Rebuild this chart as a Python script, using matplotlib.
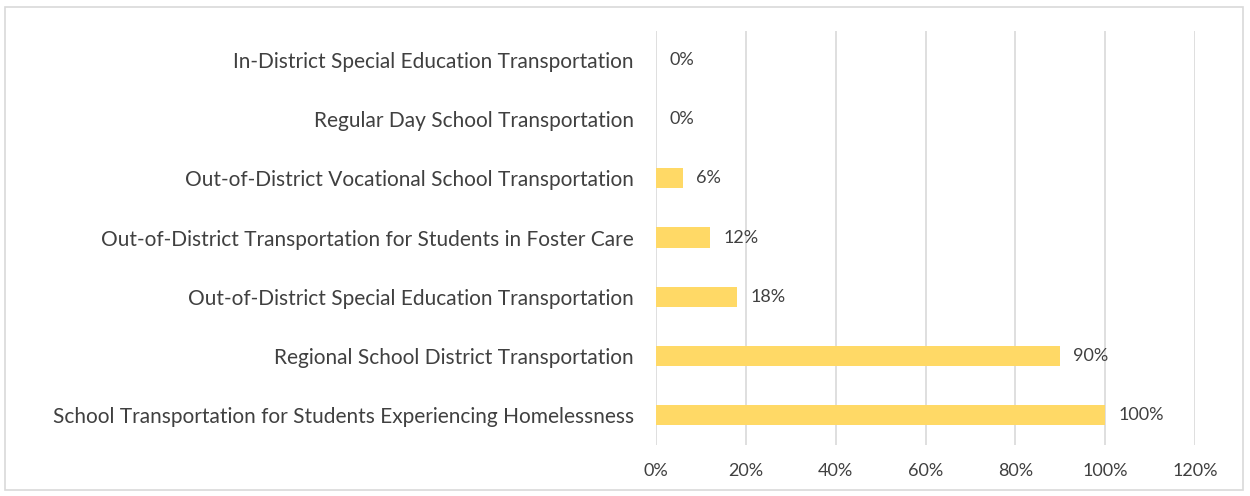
import matplotlib
matplotlib.use("Agg")
import matplotlib.pyplot as plt
from matplotlib.patches import Rectangle
from matplotlib.ticker import FuncFormatter, MultipleLocator

categories = [
    "In-District Special Education Transportation",
    "Regular Day School Transportation",
    "Out-of-District Vocational School Transportation",
    "Out-of-District Transportation for Students in Foster Care",
    "Out-of-District Special Education Transportation",
    "Regional School District Transportation",
    "School Transportation for Students Experiencing Homelessness",
]
shares = [0, 0, 6, 12, 18, 90, 100]

plt.rcParams["font.family"] = ["Lato", "DejaVu Sans"]
text_color = "#404040"
bar_color = "#FFD966"
grid_color = "#D9D9D9"

fig = plt.figure(figsize=(12.5, 4.96), dpi=100)
ax = fig.add_axes([0.5248, 0.1038, 0.4312, 0.8347])

# Outer chart frame
fig.patches.append(Rectangle((5 / 1250, 1 - 490 / 496), 1238 / 1250, 483 / 496,
                             transform=fig.transFigure, fill=False,
                             edgecolor=grid_color, linewidth=1.2))

ypos = list(range(len(categories)))[::-1]
ax.barh(ypos, shares, height=0.34, color=bar_color, zorder=2)

for y, v in zip(ypos, shares):
    ax.annotate(f"{v}%", (v, y), xytext=(9.5, 0), textcoords="offset points",
                va="center", ha="left", fontsize=13, color=text_color)

ax.set_xlim(0, 120)
ax.set_ylim(-0.5, len(categories) - 0.5)
ax.xaxis.set_major_locator(MultipleLocator(20))
ax.xaxis.set_major_formatter(FuncFormatter(lambda x, _: f"{x:.0f}%"))
ax.set_yticks(ypos)
ax.set_yticklabels(categories)

ax.grid(axis="x", color=grid_color, linewidth=1.2, zorder=0)
ax.set_axisbelow(True)
for s in ax.spines.values():
    s.set_visible(False)
ax.tick_params(axis="both", length=0, colors=text_color)
ax.tick_params(axis="y", pad=16, labelsize=15)
ax.tick_params(axis="x", pad=13, labelsize=13)

fig.savefig("out.png", dpi=100)
